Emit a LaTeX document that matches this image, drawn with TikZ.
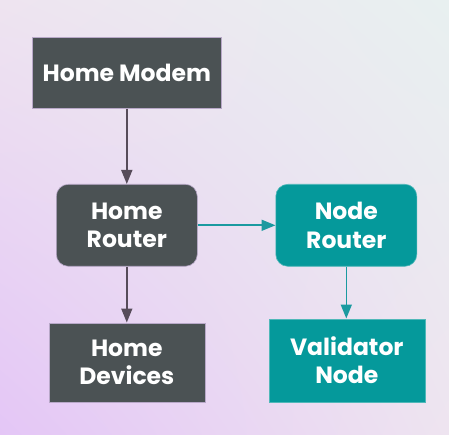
\documentclass[tikz,border=0pt]{standalone}
\usepackage{fontspec}
\setmainfont{Poppins}
\usetikzlibrary{arrows.meta,shadings}
\definecolor{boxgray}{HTML}{4B5254}
\definecolor{boxteal}{HTML}{05999B}
\definecolor{arrgray}{HTML}{574C5A}
\definecolor{arrteal}{HTML}{1A9AA0}
\definecolor{bgA}{HTML}{E4C6F6}
\definecolor{bgB}{HTML}{E8F0F0}
\definecolor{bgM}{HTML}{EEE4F0}
\definecolor{edgecol}{HTML}{B8A8C8}
\begin{document}
\begin{tikzpicture}[x=1pt,y=-1pt,
  box/.style={draw=edgecol, line width=0.6pt, text=white, font=\bfseries\fontsize{23.5}{28.5}\selectfont, align=center, inner sep=0pt, anchor=north west},
  grayb/.style={box, fill=boxgray},
  tealb/.style={box, fill=boxteal, draw=boxteal!70!white},
  rnd/.style={rounded corners=12pt},
  conn/.style={line width=1.6pt, -{Triangle[length=14pt,width=11pt]}},
]
\shade[lower left=bgA, upper right=bgB, lower right=bgM, upper left=bgM] (0,0) rectangle (449,435);
\useasboundingbox (0,0) rectangle (449,435);
\node[grayb, minimum width=189pt, minimum height=71pt] (modem) at (32,37) {Home Modem};
\node[grayb, rnd, minimum width=141pt, minimum height=82pt] (router) at (56,184) {Home\\Router};
\node[tealb, rnd, minimum width=141pt, minimum height=82pt] (nrouter) at (275.5,184) {Node\\Router};
\node[grayb, minimum width=156pt, minimum height=79pt] (devices) at (48.5,322.5) {Home\\Devices};
\node[tealb, minimum width=156pt, minimum height=83pt] (validator) at (268.5,318.5) {Validator\\Node};
\draw[conn, arrgray] (modem.south) -- (router.north);
\draw[conn, arrgray] (router.south) -- (devices.north -| router.south);
\draw[conn, arrteal] (router.east) -- (nrouter.west);
\draw[conn, arrteal] (nrouter.south) -- (validator.north -| nrouter.south);
\end{tikzpicture}
\end{document}
